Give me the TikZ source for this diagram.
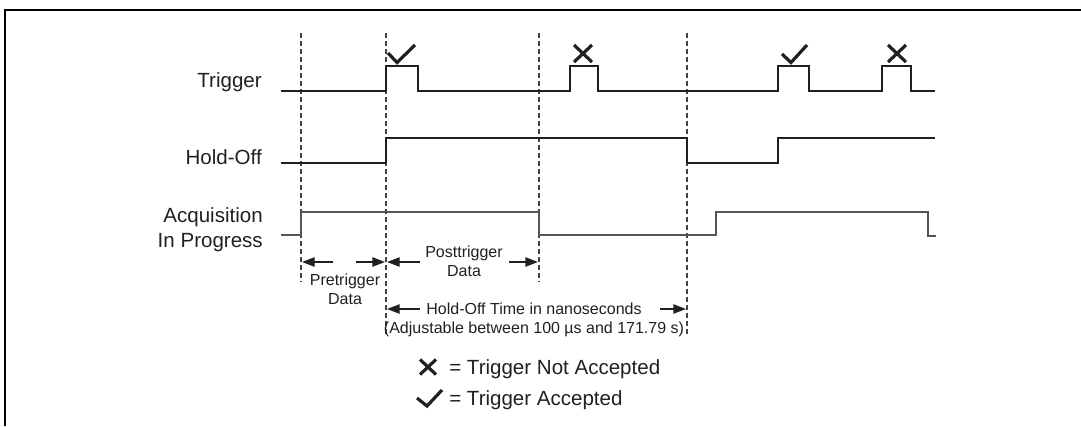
\documentclass[tikz,border=0pt]{standalone}
\usepackage{fontspec}
\setmainfont{Liberation Sans}
\usetikzlibrary{arrows.meta}
\definecolor{ink}{HTML}{231F20}
\definecolor{acq}{HTML}{555555}
\definecolor{dashcol}{HTML}{444444}
\begin{document}
\begin{tikzpicture}[x=0.75pt,y=-0.75pt,
  sig/.style={line width=1.1pt, draw=ink, line join=miter},
  acqsig/.style={line width=1.1pt, draw=acq, line join=miter},
  guide/.style={line width=1pt, draw=dashcol, dash pattern=on 3.75pt off 2.25pt},
  frameline/.style={line width=1.6pt, draw=black},
  symstroke/.style={line width=2.4pt, draw=ink, line cap=butt, line join=miter},
  dimarrow/.style={-{Triangle[length=9.5pt,width=7pt]}, line width=1pt, draw=ink},
  biglabel/.style={font=\fontsize{15.4pt}{18pt}\selectfont, text=ink, inner sep=0pt},
  smalllabel/.style={font=\fontsize{12pt}{14pt}\selectfont, text=ink, inner sep=0pt}]
\useasboundingbox (0,0) rectangle (1081,426);
% frame (top and left edges)
\draw[frameline] (5,426) -- (5,10) -- (1081,10);
% guide lines
\draw[guide] (301,33) -- (301,282);
\draw[guide] (386,33) -- (386,335);
\draw[guide] (539,33) -- (539,282);
\draw[guide] (687,33) -- (687,335);
% signal labels
\node[biglabel, anchor=base east] (ltrig) at (262,87) {Trigger};
\node[biglabel, anchor=base east] (lhold) at (262,164) {Hold-Off};
\node[biglabel, anchor=base east] (lacq1) at (263,222) {Acquisition};
\node[biglabel, anchor=base east] (lacq2) at (263,247) {In Progress};
% waveforms
\draw[sig] (281,91) -- (386,91) -- (386,66) -- (418,66) -- (418,91) -- (570,91) -- (570,66) -- (598,66) -- (598,91)
  -- (778,91) -- (778,66) -- (809,66) -- (809,91) -- (882,91) -- (882,66) -- (911,66) -- (911,91) -- (935,91);
\draw[sig] (281,163) -- (386,163) -- (386,138) -- (687,138) -- (687,163) -- (778,163) -- (778,138) -- (935,138);
\draw[acqsig] (281,235) -- (301,235) -- (301,212) -- (539,212) -- (539,235) -- (716,235) -- (716,212)
  -- (928,212) -- (928,236) -- (936,236);
% accepted / not accepted marks
\draw[symstroke] (388,53) -- (397,62.5) -- (415,45);
\draw[symstroke] (782,54) -- (791,62.5) -- (807,45);
\draw[symstroke] (574,45) -- (592,62) (574,62) -- (592,45);
\draw[symstroke] (888,45) -- (906,62) (888,62) -- (906,45);
% dimension arrows
\coordinate (pa1) at (333,262); \coordinate (pa1t) at (302,262);
\coordinate (pa2) at (356,262); \coordinate (pa2t) at (385,262);
\coordinate (qa1) at (420,262); \coordinate (qa1t) at (387,262);
\coordinate (qa2) at (509,262); \coordinate (qa2t) at (538,262);
\coordinate (ha1) at (420,309); \coordinate (ha1t) at (387,309);
\coordinate (ha2) at (660,309); \coordinate (ha2t) at (686,309);
\draw[dimarrow] (pa1) -- (pa1t);
\draw[dimarrow] (pa2) -- (pa2t);
\draw[dimarrow] (qa1) -- (qa1t);
\draw[dimarrow] (qa2) -- (qa2t);
\draw[dimarrow] (ha1) -- (ha1t);
\draw[dimarrow] (ha2) -- (ha2t);
% dimension labels
\node[smalllabel, anchor=base] (pre1) at (345,285) {Pretrigger};
\node[smalllabel, anchor=base] (pre2) at (345,304) {Data};
\node[smalllabel, anchor=base] (post1) at (464,257) {Posttrigger};
\node[smalllabel, anchor=base] (post2) at (464,276) {Data};
\node[smalllabel, anchor=base] (hot1) at (534,314) {Hold-Off Time in nanoseconds};
\node[smalllabel, anchor=base] (hot2) at (534,333) {(Adjustable between 100 µs and 171.79 s)};
% legend
\draw[symstroke] (420,359.5) -- (436,374.5) (420,374.5) -- (436,359.5);
\draw[symstroke] (417,398) -- (427,406) -- (442,390);
\node[biglabel, anchor=base west] (leg1) at (449,374) {= Trigger Not Accepted};
\node[biglabel, anchor=base west] (leg2) at (449,405) {= Trigger Accepted};
\end{tikzpicture}
\end{document}
